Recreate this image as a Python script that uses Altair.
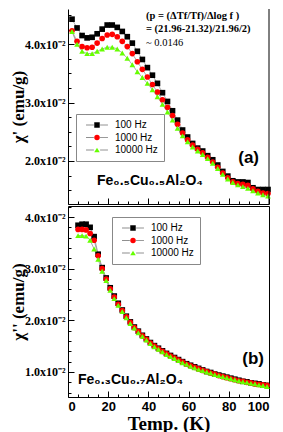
import altair as alt
import pandas as pd

freqs = ["100 Hz", "1000 Hz", "10000 Hz"]
line_keys = ["100 Hz line", "1000 Hz line", "10000 Hz line"]
colors = ["#000000", "#ff0000", "#66ff00"]
shapes = ["square", "circle", "triangle-up"]

# Panel (a): Fe0.5Cu0.5Al2O4, chi' (x1e-2 emu/g)
T_a = [2, 4.5, 7, 9.5, 12, 14.5, 17, 19.5, 22, 24.5, 27, 29.5, 32, 34.5, 37, 39.5,
       42, 44.5, 47, 49.5, 52, 54.5, 57, 59.5, 62, 64.5, 67, 69.5, 72, 74.5, 77, 79.5,
       82, 84.5, 87, 89.5, 92, 94.5, 97, 99.5]
a_100 = [4.43, 4.28, 4.15, 4.11, 4.12, 4.18, 4.26, 4.33, 4.33, 4.29, 4.22, 4.13, 4.02, 3.88, 3.74, 3.60,
         3.47, 3.33, 3.17, 3.02, 2.86, 2.70, 2.53, 2.41, 2.30, 2.22, 2.17, 2.09, 2.02, 1.93, 1.82, 1.74,
         1.66, 1.64, 1.64, 1.63, 1.54, 1.51, 1.51, 1.51]
a_1000 = [4.23, 4.05, 3.96, 3.94, 3.95, 4.02, 4.10, 4.16, 4.17, 4.13, 4.05, 3.96, 3.84, 3.70, 3.57, 3.44,
          3.31, 3.18, 3.05, 2.92, 2.78, 2.63, 2.48, 2.36, 2.27, 2.20, 2.14, 2.06, 1.98, 1.89, 1.79, 1.71,
          1.64, 1.61, 1.60, 1.58, 1.52, 1.48, 1.45, 1.44]
a_10000 = [4.22, 4.00, 3.88, 3.84, 3.84, 3.88, 3.92, 3.95, 3.95, 3.92, 3.85, 3.76, 3.65, 3.53, 3.43, 3.33,
           3.22, 3.10, 2.97, 2.84, 2.70, 2.56, 2.43, 2.33, 2.24, 2.17, 2.11, 2.04, 1.96, 1.87, 1.77, 1.69,
           1.63, 1.59, 1.56, 1.53, 1.49, 1.45, 1.42, 1.40]

# Panel (b): Fe0.3Cu0.7Al2O4, chi'' (x1e-2 emu/g)
T_b = [5, 7, 9, 11, 13, 15, 17, 19, 21, 23, 25, 27, 29, 31, 33, 35, 37, 39, 41, 43, 45, 47,
       49, 51, 53, 55, 57, 59, 61, 63, 65, 67, 69, 71, 73, 75, 77, 79, 81, 83, 85, 87, 89,
       91, 93, 95, 97, 99]
b_100 = [3.84, 3.86, 3.86, 3.80, 3.62, 3.28, 3.02, 2.82, 2.63, 2.47, 2.33, 2.20, 2.08, 1.97, 1.87, 1.79,
         1.71, 1.64, 1.57, 1.51, 1.46, 1.41, 1.36, 1.32, 1.28, 1.24, 1.20, 1.16, 1.13, 1.10, 1.07, 1.04,
         1.01, 0.99, 0.96, 0.94, 0.92, 0.90, 0.88, 0.86, 0.84, 0.82, 0.81, 0.79, 0.78, 0.77, 0.75, 0.74]
b_1000 = [3.76, 3.76, 3.75, 3.68, 3.55, 3.25, 3.00, 2.80, 2.61, 2.45, 2.31, 2.19, 2.07, 1.96, 1.86, 1.78,
          1.70, 1.63, 1.56, 1.50, 1.45, 1.40, 1.35, 1.31, 1.27, 1.23, 1.19, 1.15, 1.12, 1.09, 1.06, 1.03,
          1.01, 0.98, 0.96, 0.93, 0.91, 0.89, 0.87, 0.85, 0.83, 0.82, 0.80, 0.79, 0.77, 0.76, 0.75, 0.74]
b_10000 = [3.64, 3.64, 3.63, 3.55, 3.38, 3.18, 2.95, 2.77, 2.58, 2.42, 2.29, 2.17, 2.05, 1.94, 1.85, 1.76,
           1.69, 1.62, 1.55, 1.49, 1.44, 1.39, 1.34, 1.30, 1.26, 1.22, 1.18, 1.15, 1.11, 1.08, 1.05, 1.03,
           1.00, 0.98, 0.95, 0.93, 0.91, 0.89, 0.87, 0.85, 0.83, 0.81, 0.80, 0.78, 0.77, 0.75, 0.74, 0.72]

x_major = [0, 20, 40, 60, 80, 100]
x_ticks = [0, 5, 10, 15, 20, 25, 30, 35, 40, 45, 50, 55, 60, 65, 70, 75, 80, 85, 90, 95, 100]
ya_major = [0.02, 0.03, 0.04]
ya_ticks = [0.015, 0.0175, 0.02, 0.0225, 0.025, 0.0275, 0.03, 0.0325, 0.035, 0.0375, 0.04, 0.0425, 0.045]
yb_major = [0.01, 0.02, 0.03, 0.04]
yb_ticks = [0.006, 0.008, 0.01, 0.012, 0.014, 0.016, 0.018, 0.02, 0.022, 0.024, 0.026, 0.028,
            0.03, 0.032, 0.034, 0.036, 0.038, 0.04, 0.042]


def frame(T, series):
    rows = []
    for f, lk, vals in zip(freqs, line_keys, series):
        for t, v in zip(T, vals):
            rows.append({"T": t, "chi": v * 0.01, "freq": f, "line": lk})
    return pd.DataFrame(rows)


df_a = frame(T_a, [a_100, a_1000, a_10000])
df_b = frame(T_b, [b_100, b_1000, b_10000])

W = 201
H_A = 195
H_B = 191
SERIF = "Liberation Serif"
SANS = "Liberation Sans"
LINE_GREY = "#8c8c8c"

xtick_cond = {"condition": {"test": "datum.value % 20 === 0", "value": 6}, "value": 3}
ytick_cond = {"condition": {"test": "abs(datum.value*100 - round(datum.value*100)) < 0.001", "value": 6}, "value": 3}
label_expr = "format(datum.value*100, '.1f') + 'x10⁻²'"


def legend_marks(legx, legy):
    return alt.Legend(orient="none", legendX=legx, legendY=legy, title=None,
                      fillColor="transparent", strokeColor="#888888")


def legend_lines(legx, legy):
    return alt.Legend(orient="none", legendX=legx, legendY=legy, title=None,
                      fillColor="transparent", strokeColor="transparent",
                      symbolType="M-4,0H-1.15M1.15,0H4", symbolStrokeColor=LINE_GREY,
                      symbolStrokeWidth=1, symbolFillColor="transparent",
                      labelExpr="' '", labelColor="transparent")


def panel(df, ydom, ymajor, yticks, H, ytitle, show_x, legx, legy, texts, top):
    color = alt.Color("freq:N", scale=alt.Scale(domain=freqs, range=colors),
                      legend=legend_marks(legx, legy))
    shape = alt.Shape("freq:N", scale=alt.Scale(domain=freqs, range=shapes),
                      legend=legend_marks(legx, legy))
    dash = alt.StrokeDash("line:N", scale=alt.Scale(domain=line_keys, range=[[1, 0], [1, 0], [1, 0]]),
                          legend=legend_lines(legx, legy))
    base = alt.Chart(df)
    lines = base.mark_line(color=LINE_GREY, strokeWidth=0.8).encode(
        x=alt.X("T:Q", scale=alt.Scale(domain=[0, 100], nice=False, zero=False),
                axis=alt.Axis(orient="bottom", values=x_major, labels=show_x, ticks=False,
                              domain=top, domainColor="black", grid=False,
                              title="Temp. (K)" if show_x else None,
                              labelFont=SANS, labelFontWeight="bold", labelFontSize=13,
                              labelPadding=3, labelColor="black",
                              titleFont=SERIF, titleFontWeight="bold", titleFontSize=19,
                              titlePadding=1, titleColor="black")),
        y=alt.Y("chi:Q", scale=alt.Scale(domain=ydom, nice=False, zero=False),
                axis=alt.Axis(orient="left", values=ymajor, labelExpr=label_expr, ticks=False,
                              domain=top, domainColor="black", grid=False, title=ytitle,
                              labelFont=SERIF, labelFontWeight="bold", labelFontSize=12,
                              labelPadding=3, labelColor="black",
                              titleFont=SERIF, titleFontWeight="bold", titleFontSize=17,
                              titlePadding=-3, titleColor="black")),
        strokeDash=dash,
    )
    pts = base.mark_point(filled=True, size=32, opacity=1).encode(
        x=alt.X("T:Q", axis=alt.Axis(orient="top", offset=-H, values=x_ticks, labels=False,
                                     domain=False, grid=False, title=None, tickColor="black",
                                     tickSize=xtick_cond)),
        y=alt.Y("chi:Q", axis=alt.Axis(orient="right", offset=-W, values=yticks, labels=False,
                                       domain=False, grid=False, title=None, tickColor="black",
                                       tickSize=ytick_cond)),
        color=color,
        shape=shape,
    )
    layers = [lines, pts]
    one = pd.DataFrame({"k": [0]})
    for t in texts:
        txt, x, y, font, size, weight, align = t
        layers.append(alt.Chart(one).mark_text(text=txt, font=font, fontSize=size, fontWeight=weight,
                                               align=align, baseline="middle", color="black").encode(
            x=alt.value(x), y=alt.value(y)))
    if top:
        layers.append(alt.Chart(one).mark_rule(color="black", strokeWidth=1).encode(
            x=alt.value(W), y=alt.value(0), y2=alt.value(H)))
    ch = alt.layer(*layers).properties(width=W, height=H)
    if top:
        ch = ch.properties(view=alt.ViewBackground(stroke="transparent"))
    return ch


texts_a = [
    ("(p = (ΔTf/Tf)/Δlog f )", 78, 7, SERIF, 10.5, "bold", "left"),
    ("= (21.96-21.32)/21.96/2)", 78, 20, SERIF, 10.5, "bold", "left"),
    ("~ 0.0146", 78, 34, SERIF, 10.5, "normal", "left"),
    ("(a)", 191, 149, SANS, 17, "bold", "right"),
    ("Fe₀.₅Cu₀.₅Al₂O₄", 29, 172, SANS, 14, "bold", "left"),
]
texts_b = [
    ("(b)", 196, 153, SANS, 17, "bold", "right"),
    ("Fe₀.₃Cu₀.₇Al₂O₄", 10, 174, SANS, 14, "bold", "left"),
]

top = panel(df_a, [0.01262, 0.04605], ya_major, ya_ticks, H_A, "χ' (emu/g)", False, 8, 105, texts_a, True)
bottom = panel(df_b, [0.00516, 0.04213], yb_major, yb_ticks, H_B, "χ'' (emu/g)", True, 44, 11, texts_b, False)

chart = alt.vconcat(top, bottom, spacing=0).resolve_scale(
    color="independent", shape="independent", strokeDash="independent"
).resolve_legend(color="independent", shape="independent", strokeDash="independent").properties(
    padding={"left": 0, "top": 0, "right": 0, "bottom": 0}
).configure_view(stroke="black", strokeWidth=1).configure_legend(
    padding=6, rowPadding=2.5,
    labelFont=SANS, labelFontSize=10, labelColor="black", symbolSize=30,
    symbolOffset=10, labelOffset=13, symbolStrokeWidth=0
)

chart.save("out.html", embed_options={"renderer": "svg", "actions": False})
